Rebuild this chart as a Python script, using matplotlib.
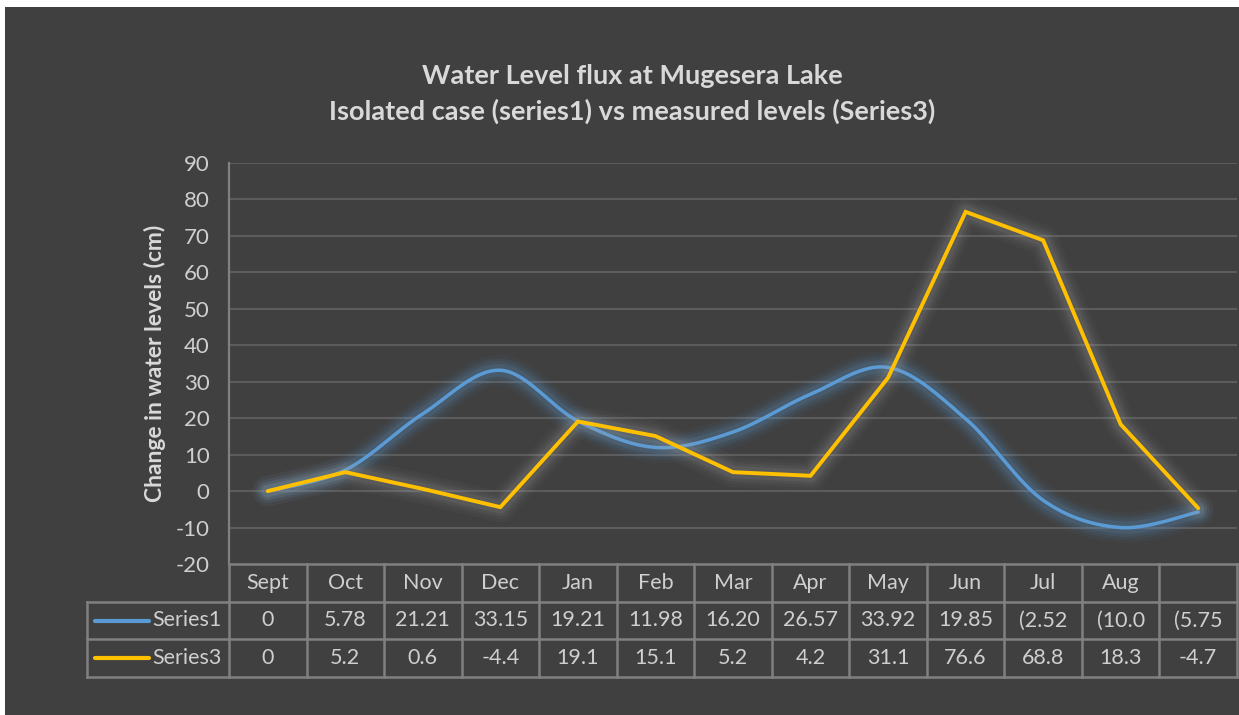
import numpy as np
import matplotlib
matplotlib.use("Agg")
import matplotlib.pyplot as plt
from matplotlib.patches import Rectangle
from matplotlib.lines import Line2D

# ---------------- data ----------------
categories = ["Sept", "Oct", "Nov", "Dec", "Jan", "Feb", "Mar", "Apr", "May", "Jun", "Jul", "Aug", ""]
series1 = [0, 5.78, 21.21, 33.15, 19.21, 11.98, 16.20, 26.57, 33.92, 19.85, -2.52, -10.0, -5.75]
series3 = [0, 5.2, 0.6, -4.4, 19.1, 15.1, 5.2, 4.2, 31.1, 76.6, 68.8, 18.3, -4.7]
series1_labels = ["0", "5.78", "21.21", "33.15", "19.21", "11.98", "16.20", "26.57", "33.92", "19.85", "(2.52", "(10.0", "(5.75"]
series3_labels = ["0", "5.2", "0.6", "-4.4", "19.1", "15.1", "5.2", "4.2", "31.1", "76.6", "68.8", "18.3", "-4.7"]
series_names = ["Series1", "Series3"]
yticks = list(range(-20, 100, 10))

title = "Water Level flux at Mugesera Lake\nIsolated case (series1) vs measured levels (Series3)"
ylabel = "Change in water levels (cm)"

# ---------------- style ----------------
BG = "#404040"
TXT = "#d9d9d9"
TICK = "#cfcfcf"
GRID = "#5c5c5c"
BORDER = "#808080"
BLUE = "#5b9bd5"
GOLD = "#ffc000"
FONT = "Lato"

W, H = 1239, 715
fig = plt.figure(figsize=(W / 100, H / 100), dpi=100, facecolor="white")
fig.patches.append(Rectangle((5 / W, 0), 1 - 5 / W, 1 - 7 / H, transform=fig.transFigure,
                             facecolor=BG, edgecolor="none", zorder=-10))

# pixel layout
x0, x1 = 229, 1237
ytop, ybot = 163, 564
tbl_bot = 677
leg_left = 87

ax = fig.add_axes([x0 / W, 1 - ybot / H, (x1 - x0) / W, (ybot - ytop) / H])
ax.set_facecolor("none")
n = len(categories)
xs = np.arange(n)
ax.set_xlim(-0.5, n - 0.5)
ax.set_ylim(-20, 90)
ax.set_yticks(yticks)
ax.set_yticklabels([str(t) for t in yticks], fontsize=16, color=TICK, family=FONT)
ax.tick_params(axis="y", length=0, pad=14)
ax.set_xticks([])
for s in ["top", "right", "bottom"]:
    ax.spines[s].set_visible(False)
ax.spines["left"].set_color(BORDER)
ax.spines["left"].set_linewidth(1.6)
for t in yticks:
    if t > -20:
        ax.axhline(t, color=GRID, lw=1.5, zorder=1)
ax.set_ylabel(ylabel, fontsize=16.5, color=TXT, family=FONT, fontweight="bold", labelpad=7)


def smooth(x, y, steps=30):
    x = np.asarray(x, float)
    y = np.asarray(y, float)
    px, py = [], []
    m = len(x)
    for i in range(m - 1):
        p0 = (x[max(i - 1, 0)], y[max(i - 1, 0)])
        p1 = (x[i], y[i])
        p2 = (x[i + 1], y[i + 1])
        p3 = (x[min(i + 2, m - 1)], y[min(i + 2, m - 1)])
        c1 = (p1[0] + (p2[0] - p0[0]) / 6, p1[1] + (p2[1] - p0[1]) / 6)
        c2 = (p2[0] - (p3[0] - p1[0]) / 6, p2[1] - (p3[1] - p1[1]) / 6)
        t = np.linspace(0, 1, steps, endpoint=(i == m - 2))
        bx = (1 - t) ** 3 * p1[0] + 3 * (1 - t) ** 2 * t * c1[0] + 3 * (1 - t) * t ** 2 * c2[0] + t ** 3 * p2[0]
        by = (1 - t) ** 3 * p1[1] + 3 * (1 - t) ** 2 * t * c1[1] + 3 * (1 - t) * t ** 2 * c2[1] + t ** 3 * p2[1]
        px.extend(bx)
        py.extend(by)
    return np.array(px), np.array(py)


def glow(ax, x, y, color, gcolor, lw, z, strength=1.0):
    for w, a in [(22, 0.035), (17, 0.05), (13, 0.07), (9, 0.10)]:
        ax.plot(x, y, color=gcolor, lw=w, alpha=a * strength, solid_capstyle="round",
                solid_joinstyle="round", zorder=z)
    ax.plot(x, y, color=color, lw=lw, solid_capstyle="round", solid_joinstyle="miter", zorder=z + 1)


sx, sy = smooth(xs, series1)
glow(ax, sx, sy, BLUE, BLUE, 2.5, 3, 1.4)
glow(ax, xs, series3, GOLD, "#a8a8a8", 2.8, 5, 1.1)

fig.text(632 / W, 1 - 94 / H, title, ha="center", va="center", fontsize=19.5,
         color=TXT, family=FONT, fontweight="bold", linespacing=1.5)

# ---------------- data table ----------------
tax = fig.add_axes([x0 / W, 1 - tbl_bot / H, (x1 - x0) / W, (tbl_bot - ybot) / H])
tax.set_xlim(-0.5, n - 0.5)
tax.set_ylim(0, 3)
tax.axis("off")
colw = (x1 - x0) / n  # px per category
left_x = -0.5 - (x0 - leg_left) / colw

lk = dict(color=BORDER, lw=1.8, clip_on=False, zorder=2)
tax.plot([-0.5, n - 0.5], [3, 3], **lk)
for yv in [2, 1, 0]:
    tax.plot([left_x, n - 0.5], [yv, yv], **lk)
for i in range(n + 1):
    tax.plot([i - 0.5, i - 0.5], [0, 3], **lk)
tax.plot([left_x, left_x], [0, 2], **lk)

fs = 15.5
for i, c in enumerate(categories):
    tax.text(i, 2.5, c, ha="center", va="center", fontsize=fs, color=TICK, family=FONT)
for i, lab in enumerate(series1_labels):
    tax.text(i, 1.5, lab, ha="center", va="center", fontsize=fs, color=TICK, family=FONT)
for i, lab in enumerate(series3_labels):
    tax.text(i, 0.5, lab, ha="center", va="center", fontsize=fs, color=TICK, family=FONT)

for row, name, col in [(1.5, series_names[0], BLUE), (0.5, series_names[1], GOLD)]:
    lx0 = left_x + 8 / colw
    lx1 = left_x + 62 / colw
    tax.add_line(Line2D([lx0, lx1], [row, row], color=col, lw=3, solid_capstyle="round", clip_on=False))
    tax.text(-0.5 - 7 / colw, row, name, ha="right", va="center", fontsize=fs, color=TICK, family=FONT)

fig.savefig("out.png", dpi=100, facecolor="white")
